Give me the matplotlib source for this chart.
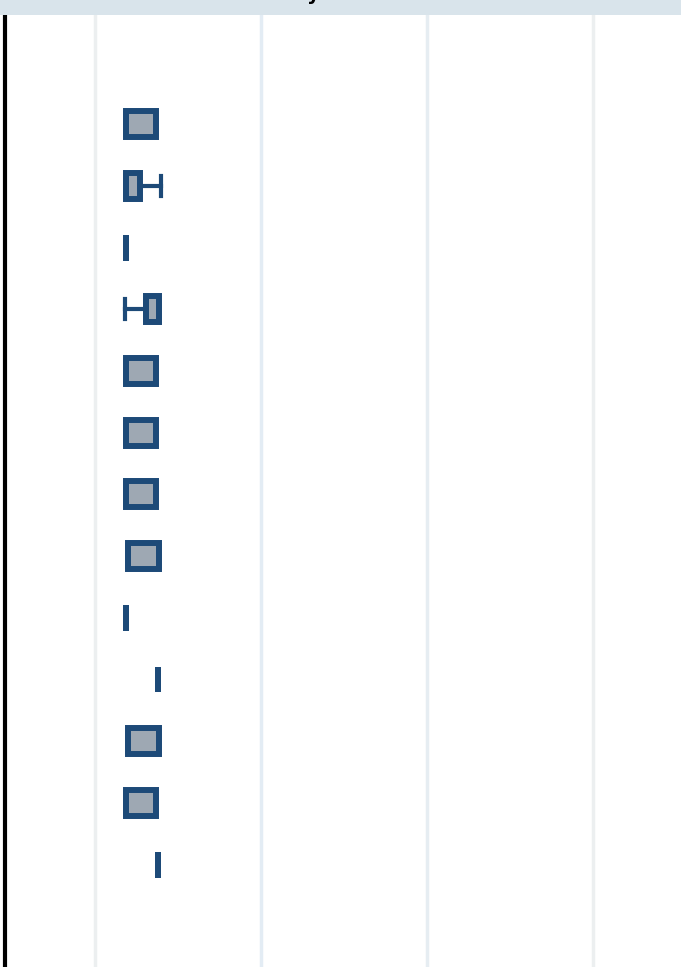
import matplotlib
matplotlib.use("Agg")
import matplotlib.pyplot as plt
from matplotlib.patches import Rectangle

# ── Data (no tick labels visible, arbitrary units) ──
rows    = list(range(1, 14))
whislo  = [0.19, 0.19, 0.19, 0.18, 0.19, 0.19, 0.19, 0.20, 0.19, 0.38, 0.20, 0.19, 0.38]
q1      = [0.19, 0.19, 0.19, 0.31, 0.19, 0.19, 0.19, 0.20, 0.19, 0.38, 0.20, 0.19, 0.38]
med     = [0.19, 0.19, 0.19, 0.31, 0.19, 0.19, 0.19, 0.20, 0.19, 0.38, 0.20, 0.19, 0.38]
q3      = [0.37, 0.27, 0.19, 0.39, 0.37, 0.37, 0.37, 0.39, 0.19, 0.38, 0.39, 0.37, 0.38]
whishi  = [0.37, 0.40, 0.19, 0.39, 0.37, 0.37, 0.37, 0.39, 0.19, 0.38, 0.39, 0.37, 0.38]
grid_at = [0, 1, 2, 3]

EDGE = "#1d4a78"
FILL = "#9ea8b3"

stats = [dict(whislo=a, q1=b, med=c, q3=d, whishi=e, fliers=[])
         for a, b, c, d, e in zip(whislo, q1, med, q3, whishi)]

fig = plt.figure(figsize=(6.81, 9.67), dpi=100)
ax = fig.add_axes([5 / 681, 0.0, 1 - 5 / 681, 1 - 15 / 967])

ax.bxp(stats, positions=rows, orientation="horizontal", widths=0.42,
       capwidths=0.32, patch_artist=True, showfliers=False,
       boxprops=dict(facecolor=FILL, edgecolor=EDGE, linewidth=4.3),
       whiskerprops=dict(color=EDGE, linewidth=3.0),
       capprops=dict(color=EDGE, linewidth=3.0),
       medianprops=dict(color=EDGE, linewidth=4.3))

ax.set_xticks(grid_at)
ax.set_xlim(-0.54, 3.53)
ax.set_ylim(14.66, -0.77)
ax.set_yticks([])
ax.tick_params(axis="x", length=0, labelbottom=False)
ax.grid(True, axis="x", linewidth=2.5)
for gl, c in zip(ax.get_xgridlines(), ["#eceff0", "#e3ecf4", "#e6edf2", "#eceff0"]):
    gl.set_color(c)
ax.set_axisbelow(True)

for s in ["top", "right", "bottom"]:
    ax.spines[s].set_visible(False)
ax.spines["left"].set_color("black")
ax.spines["left"].set_linewidth(3)

# facet strip at the top (title text is cut off, only a descender shows)
fig.patches.append(Rectangle((0, 1 - 15 / 967), 1, 15 / 967, transform=fig.transFigure,
                             facecolor="#d9e4eb", edgecolor="none"))
fig.text(313 / 681, 1.0, "y", ha="center", va="baseline", fontsize=14,
         fontweight="bold", color="black")

fig.savefig("out.png", dpi=100)
